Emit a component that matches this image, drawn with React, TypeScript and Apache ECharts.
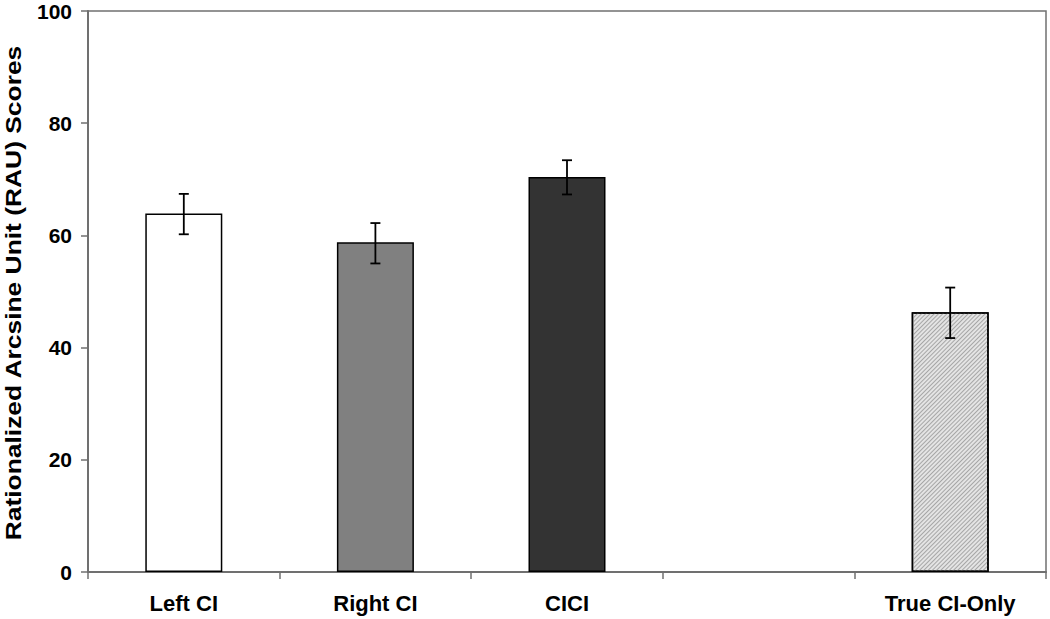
import React, { useEffect, useRef } from "react";
import * as echarts from "echarts";

const categories = ["Left CI", "Right CI", "CICI", "", "True CI-Only"];
const means = [63.9, 58.8, 70.4, null, 46.3];
const lowerErr = [60.2, 55.0, 67.3, null, 41.7];
const upperErr = [67.4, 62.2, 73.4, null, 50.7];
const barColors = ["#ffffff", "#808080", "#333333", "#ffffff", "#e4e4e4"];
const yTicks = [0, 20, 40, 60, 80, 100];

const FONT = '"Liberation Sans", Arial, sans-serif';

export default function App() {
  const ref = useRef<HTMLDivElement>(null);
  useEffect(() => {
    document.body.style.margin = "0";
    if (!ref.current) return;
    const chart = echarts.init(ref.current, undefined, { renderer: "svg" });

    const barData = means.map((v, i) => {
      if (v === null) return "-";
      const item: any = {
        value: v,
        itemStyle: { color: barColors[i], borderColor: "#000", borderWidth: 1.5 },
      };
      if (i === 4) {
        item.itemStyle.decal = {
          symbol: "rect",
          symbolSize: 1,
          dashArrayX: [[1, 0]],
          dashArrayY: [1, 2],
          rotation: -Math.PI / 4,
          color: "#a6a6a6",
        };
      }
      return item;
    });

    const errData = means
      .map((v, i) => (v === null ? null : [i, lowerErr[i], upperErr[i]]))
      .filter((d) => d !== null);

    chart.setOption({
      animation: false,
      backgroundColor: "#ffffff",
      grid: {
        left: 88,
        right: 4,
        top: 11,
        bottom: 47,
        show: true,
        borderColor: "#707070",
        borderWidth: 1.5,
        backgroundColor: "transparent",
      },
      xAxis: {
        type: "category",
        data: categories,
        axisLine: { lineStyle: { color: "#707070", width: 2 } },
        axisTick: { show: true, length: 7, alignWithLabel: false, lineStyle: { color: "#707070", width: 1.5 } },
        axisLabel: {
          color: "#000",
          fontFamily: FONT,
          fontWeight: "bold",
          fontSize: 22,
          margin: 20,
          interval: 0,
        },
        splitLine: { show: false },
      },
      yAxis: {
        type: "value",
        min: 0,
        max: 100,
        interval: 20,
        axisLine: { show: true, lineStyle: { color: "#707070", width: 2 } },
        axisTick: { show: true, length: 7, lineStyle: { color: "#707070", width: 1.5 } },
        axisLabel: {
          color: "#000",
          fontFamily: FONT,
          fontWeight: "bold",
          fontSize: 21,
          margin: 16,
          formatter: (v: number) => (yTicks.includes(v) ? String(v) : ""),
        },
        splitLine: { show: false },
      },
      graphic: [
        {
          type: "text",
          x: 13,
          y: 293,
          rotation: Math.PI / 2,
          scaleX: 1.2,
          style: {
            text: "Rationalized Arcsine Unit (RAU) Scores",
            font: `bold 22px ${FONT}`,
            fill: "#000",
            textAlign: "center",
            textVerticalAlign: "middle",
          },
        },
      ],
      series: [
        {
          type: "bar",
          data: barData,
          barWidth: 77,
          z: 2,
        },
        {
          type: "custom",
          data: errData,
          z: 5,
          renderItem: (params: any, api: any) => {
            const x = api.value(0);
            const lo = api.coord([x, api.value(1)]);
            const hi = api.coord([x, api.value(2)]);
            const cap = 5;
            const style = { stroke: "#000", lineWidth: 1.8 };
            return {
              type: "group",
              children: [
                { type: "line", shape: { x1: lo[0], y1: lo[1], x2: hi[0], y2: hi[1] }, style },
                { type: "line", shape: { x1: hi[0] - cap, y1: hi[1], x2: hi[0] + cap, y2: hi[1] }, style },
                { type: "line", shape: { x1: lo[0] - cap, y1: lo[1], x2: lo[0] + cap, y2: lo[1] }, style },
              ],
            };
          },
        },
      ],
    });
    return () => chart.dispose();
  }, []);
  return <div ref={ref} style={{ width: 1050, height: 619 }} />;
}
